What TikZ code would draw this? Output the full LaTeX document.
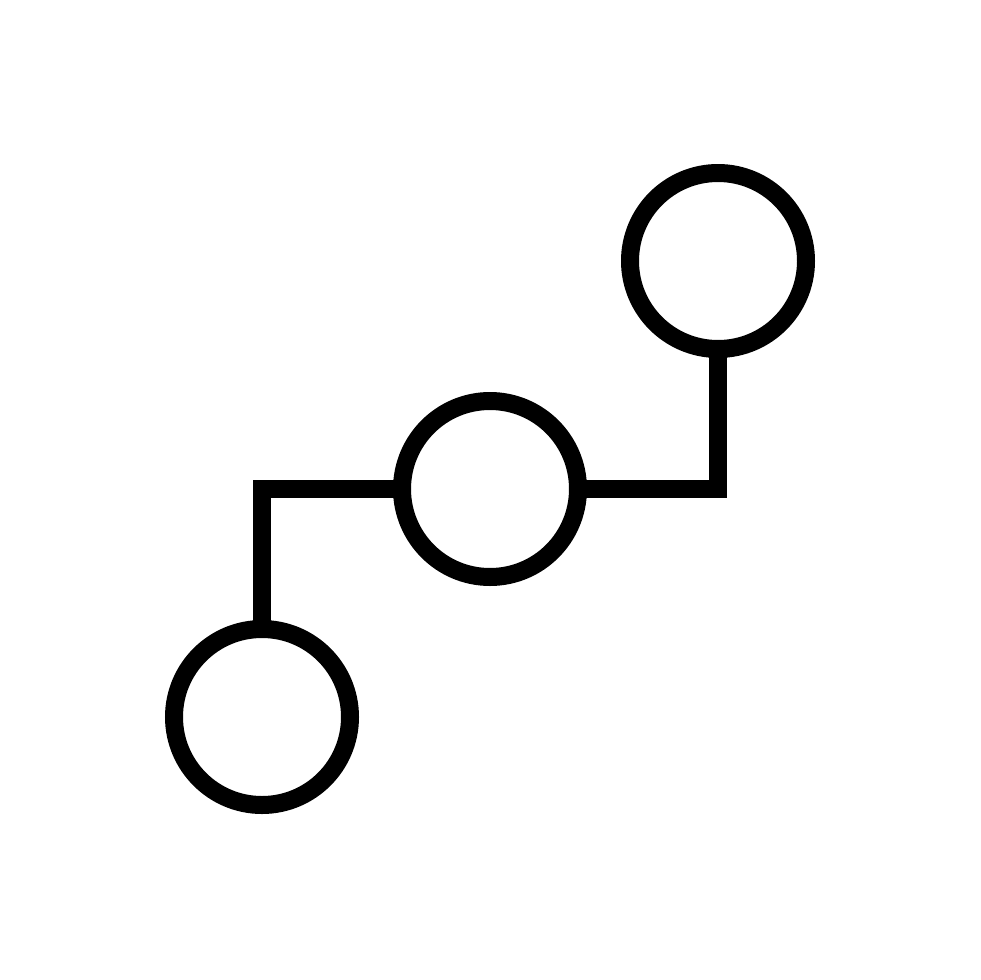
\documentclass[tikz,border=0pt]{standalone}
\begin{document}
\begin{tikzpicture}[x=1pt,y=-1pt,
  dot/.style={circle,draw=black,line width=18pt,minimum size=176pt,inner sep=0pt,outer sep=0pt},
  link/.style={draw=black,line width=18pt,line join=miter,line cap=butt}]
\fill[white] (0,0) rectangle (980,980);
\useasboundingbox (0,0) rectangle (980,980);
\node[dot] (a) at (262,717) {};
\node[dot] (b) at (490,489) {};
\node[dot] (c) at (718,261) {};
\draw[link] (a.north) |- (b.west);
\draw[link] (b.east) -| (c.south);
\end{tikzpicture}
\end{document}
